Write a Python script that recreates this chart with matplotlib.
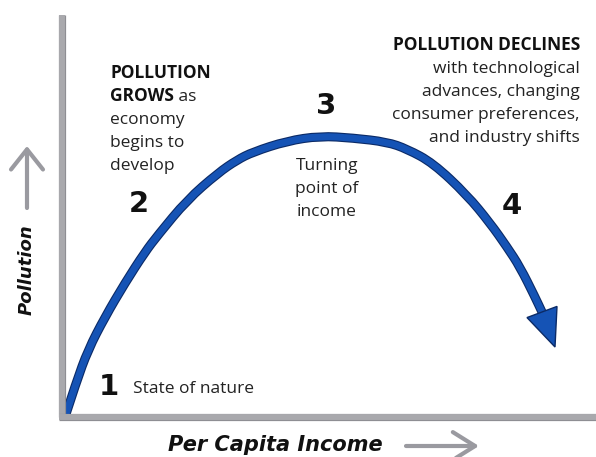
import matplotlib
matplotlib.use("Agg")
import matplotlib.pyplot as plt
import matplotlib.patheffects as pe
from matplotlib.path import Path
from matplotlib.patches import PathPatch
import numpy as np

# curve (units = px from the axes origin), last point = arrow tip
income = [4, 14, 26, 43, 63, 83, 96, 125, 156, 175, 191, 225, 258, 291, 325, 345,
          371, 405, 428, 445, 458, 473, 480, 493]
pollution = [3, 34, 67, 100, 134, 165, 182, 217, 244, 257, 265, 276, 281, 279, 275, 268,
             254, 222, 194, 170, 150, 120, 105, 70]

stage_nums = ["1", "2", "3", "4"]
stage_pos = [(109, 387), (139, 204), (326, 106), (512, 206)]

grows_lines = ["economy", "begins to", "develop"]
declines_lines = ["with technological", "advances, changing",
                  "consumer preferences,", "and industry shifts"]
turning_lines = ["Turning", "point of", "income"]

BLUE = "#1553b5"
DARK = "#0b2a66"
GREY = "#a9a9ad"
ARROW_GREY = "#9a9aa0"
TXT = "#222222"
BODY = "Open Sans"
HEAVY = "DejaVu Sans"
FS = 12.5

fig = plt.figure(figsize=(5.96, 4.57), dpi=100)
ov = fig.add_axes([0, 0, 1, 1])
ov.set_xlim(0, 596)
ov.set_ylim(457, 0)
ov.axis("off")

ax = fig.add_axes([62 / 596, 40 / 457, 534 / 596, 402 / 457])
ax.set_xlim(0, 534)
ax.set_ylim(0, 402)
ax.set_xticks([])
ax.set_yticks([])
ax.patch.set_alpha(0)
for s in ["top", "right"]:
    ax.spines[s].set_visible(False)
for s in ["left", "bottom"]:
    ax.spines[s].set_linewidth(4.3)
    ax.spines[s].set_color(GREY)
    ax.spines[s].set_capstyle("butt")
    ax.spines[s].set_path_effects([pe.Stroke(linewidth=5.2, foreground="#8e8e93"), pe.Normal()])
ax.spines["bottom"].set_bounds(-3, 534)

# the curve, drawn as a smooth quadratic path through the read points
pts = np.column_stack([income[:-1], pollution[:-1]]).astype(float)
verts = [pts[0]]
codes = [Path.MOVETO]
for i in range(1, len(pts) - 1):
    verts += [pts[i], (pts[i] + pts[i + 1]) / 2]
    codes += [Path.CURVE3, Path.CURVE3]
verts.append(pts[-1])
codes.append(Path.LINETO)
curve = PathPatch(Path(verts, codes), fill=False, edgecolor=BLUE, lw=5.0,
                  capstyle="butt", joinstyle="round", clip_on=False,
                  path_effects=[pe.Stroke(linewidth=6.6, foreground=DARK), pe.Normal()])
ax.add_patch(curve)

# arrow head
base = np.array([income[-2], pollution[-2]], float)
tip = np.array([income[-1], pollution[-1]], float)
d = tip - base
d /= np.hypot(*d)
n = np.array([-d[1], d[0]])
hw = 16
tri = np.array([base + n * hw, tip, base - n * hw])
ax.fill(tri[:, 0], tri[:, 1], color=BLUE, ec=DARK, lw=1.0, clip_on=False, zorder=3)

# stage numbers
for s, (x, y) in zip(stage_nums, stage_pos):
    ov.text(x, y, s, fontsize=21, fontweight="heavy", family=HEAVY,
            ha="center", va="center", color="#111111")

# left block
ov.text(110, 78, "POLLUTION", fontsize=FS, fontweight="bold", family=BODY,
        color="#111111", ha="left", va="baseline")
t2 = ov.text(110, 101, "GROWS", fontsize=FS, fontweight="bold", family=BODY,
             color="#111111", ha="left", va="baseline")
ov.annotate(" as", xy=(1, 0), xycoords=t2, fontsize=FS, family=BODY,
            color=TXT, ha="left", va="bottom")
for i, line in enumerate(grows_lines):
    ov.text(110, 124 + 23 * i, line, fontsize=FS, family=BODY, color=TXT,
            ha="left", va="baseline")

# right block
ov.text(580, 50, "POLLUTION DECLINES", fontsize=FS, fontweight="bold", family=BODY,
        color="#111111", ha="right", va="baseline")
for i, line in enumerate(declines_lines):
    ov.text(580, 73 + 23 * i, line, fontsize=FS, family=BODY, color=TXT,
            ha="right", va="baseline")

# turning point
for i, line in enumerate(turning_lines):
    ov.text(327, 170 + 23 * i, line, fontsize=FS, family=BODY, color=TXT,
            ha="center", va="baseline")

ov.text(133, 393, "State of nature", fontsize=FS, family=BODY, color=TXT,
        ha="left", va="baseline")

# axis labels
ov.text(27, 270, "Pollution", rotation=90, fontsize=13, fontweight="bold",
        style="italic", family=HEAVY, color="#111111", ha="center", va="center")
ov.text(275, 445, "Per Capita Income", fontsize=15, fontweight="bold",
        style="italic", family=HEAVY, color="#111111", ha="center", va="center")

# grey direction arrows
ov.annotate("", xy=(27, 146), xytext=(27, 208),
            arrowprops=dict(arrowstyle="->,head_length=1.45,head_width=1.15",
                            mutation_scale=10, color=ARROW_GREY, lw=3,
                            shrinkA=0, shrinkB=0))
ov.annotate("", xy=(479, 446), xytext=(406, 446),
            arrowprops=dict(arrowstyle="->,head_length=1.6,head_width=1.0",
                            mutation_scale=10, color=ARROW_GREY, lw=3,
                            shrinkA=0, shrinkB=0))

fig.savefig("out.png", dpi=100)
